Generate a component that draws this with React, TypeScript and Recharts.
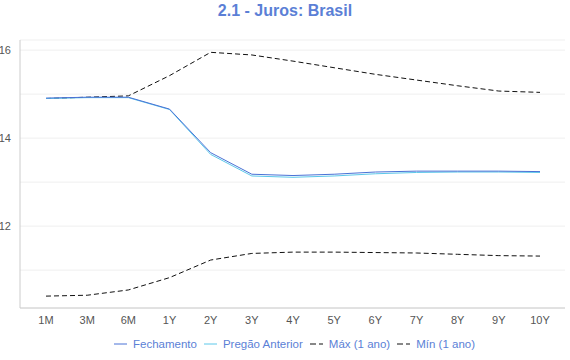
import { LineChart, Line, XAxis, YAxis, CartesianGrid, Legend } from "recharts"

const tenors = ["1M", "3M", "6M", "1Y", "2Y", "3Y", "4Y", "5Y", "6Y", "7Y", "8Y", "9Y", "10Y"]
const fechamento = [14.91, 14.93, 14.93, 14.66, 13.67, 13.18, 13.15, 13.18, 13.23, 13.25, 13.25, 13.25, 13.24]
const pregaoAnterior = [14.9, 14.92, 14.92, 14.65, 13.63, 13.14, 13.11, 13.14, 13.19, 13.22, 13.23, 13.23, 13.22]
const maxAno = [14.9, 14.93, 14.96, 15.42, 15.95, 15.89, 15.75, 15.6, 15.45, 15.32, 15.19, 15.07, 15.04]
const minAno = [10.41, 10.43, 10.55, 10.83, 11.23, 11.38, 11.41, 11.41, 11.4, 11.39, 11.36, 11.33, 11.32]
const yTicks = [11, 12, 13, 14, 15, 16]

const data = tenors.map((t, i) => ({
  tenor: t,
  fechamento: fechamento[i],
  pregao: pregaoAnterior[i],
  max: maxAno[i],
  min: minAno[i]
}))

const FONT = "'Liberation Sans', Arial, sans-serif"
const BLUE = "#5b7fd6"

const legendItems = [
  { label: "Fechamento", color: "#4a72d6", dash: false },
  { label: "Pregão Anterior", color: "#5cc8ea", dash: false },
  { label: "Máx (1 ano)", color: "#111", dash: true },
  { label: "Mín (1 ano)", color: "#111", dash: true }
]

function ChartLegend() {
  return (
    <div style={{ display: "flex", justifyContent: "center", gap: 7, paddingTop: 4, paddingLeft: 24, fontSize: 11.5, fontFamily: FONT, color: BLUE }}>
      {legendItems.map((item) => (
        <span key={item.label} style={{ display: "flex", alignItems: "center", gap: 6 }}>
          <svg width={13} height={4}>
            <line x1={0} y1={2} x2={13} y2={2} stroke={item.color} strokeWidth={1} strokeDasharray={item.dash ? "6 3" : undefined} />
          </svg>
          <span>{item.label}</span>
        </span>
      ))}
    </div>
  )
}

export default function App() {
  return (
    <div style={{ position: "absolute", left: 0, top: 0, width: 570, height: 360, background: "#fff" }}>
      <div style={{ position: "absolute", top: 2, width: 570, textAlign: "center", fontFamily: FONT, fontSize: 16, fontWeight: "bold", color: BLUE }}>
        2.1 - Juros: Brasil
      </div>
      <LineChart width={570} height={360} data={data} margin={{ top: 40, right: 5, left: 0, bottom: 6 }}>
        <CartesianGrid vertical={false} stroke="#efefef" />
        <XAxis
          dataKey="tenor"
          padding={{ left: 26, right: 25 }}
          tickLine={false}
          stroke="#cccccc"
          height={26}
          tick={{ fill: "#555", fontSize: 11, fontFamily: FONT }}
        />
        <YAxis
          type="number"
          domain={[10.14, 16.23]}
          ticks={yTicks}
          tickFormatter={(v: number) => (v % 2 === 0 ? String(v) : "")}
          width={20}
          tickLine={false}
          tickMargin={3}
          stroke="#cccccc"
          tick={{ fill: "#555", fontSize: 11, fontFamily: FONT }}
        />
        <Legend verticalAlign="bottom" height={20} content={<ChartLegend />} />
        <Line dataKey="max" stroke="#111" strokeWidth={1} strokeDasharray="5 3" dot={false} isAnimationActive={false} />
        <Line dataKey="min" stroke="#111" strokeWidth={1} strokeDasharray="5 3" dot={false} isAnimationActive={false} />
        <Line dataKey="pregao" stroke="#5cc8ea" strokeWidth={1} dot={false} isAnimationActive={false} />
        <Line dataKey="fechamento" stroke="#4a72d6" strokeWidth={1} dot={false} isAnimationActive={false} />
      </LineChart>
    </div>
  )
}
